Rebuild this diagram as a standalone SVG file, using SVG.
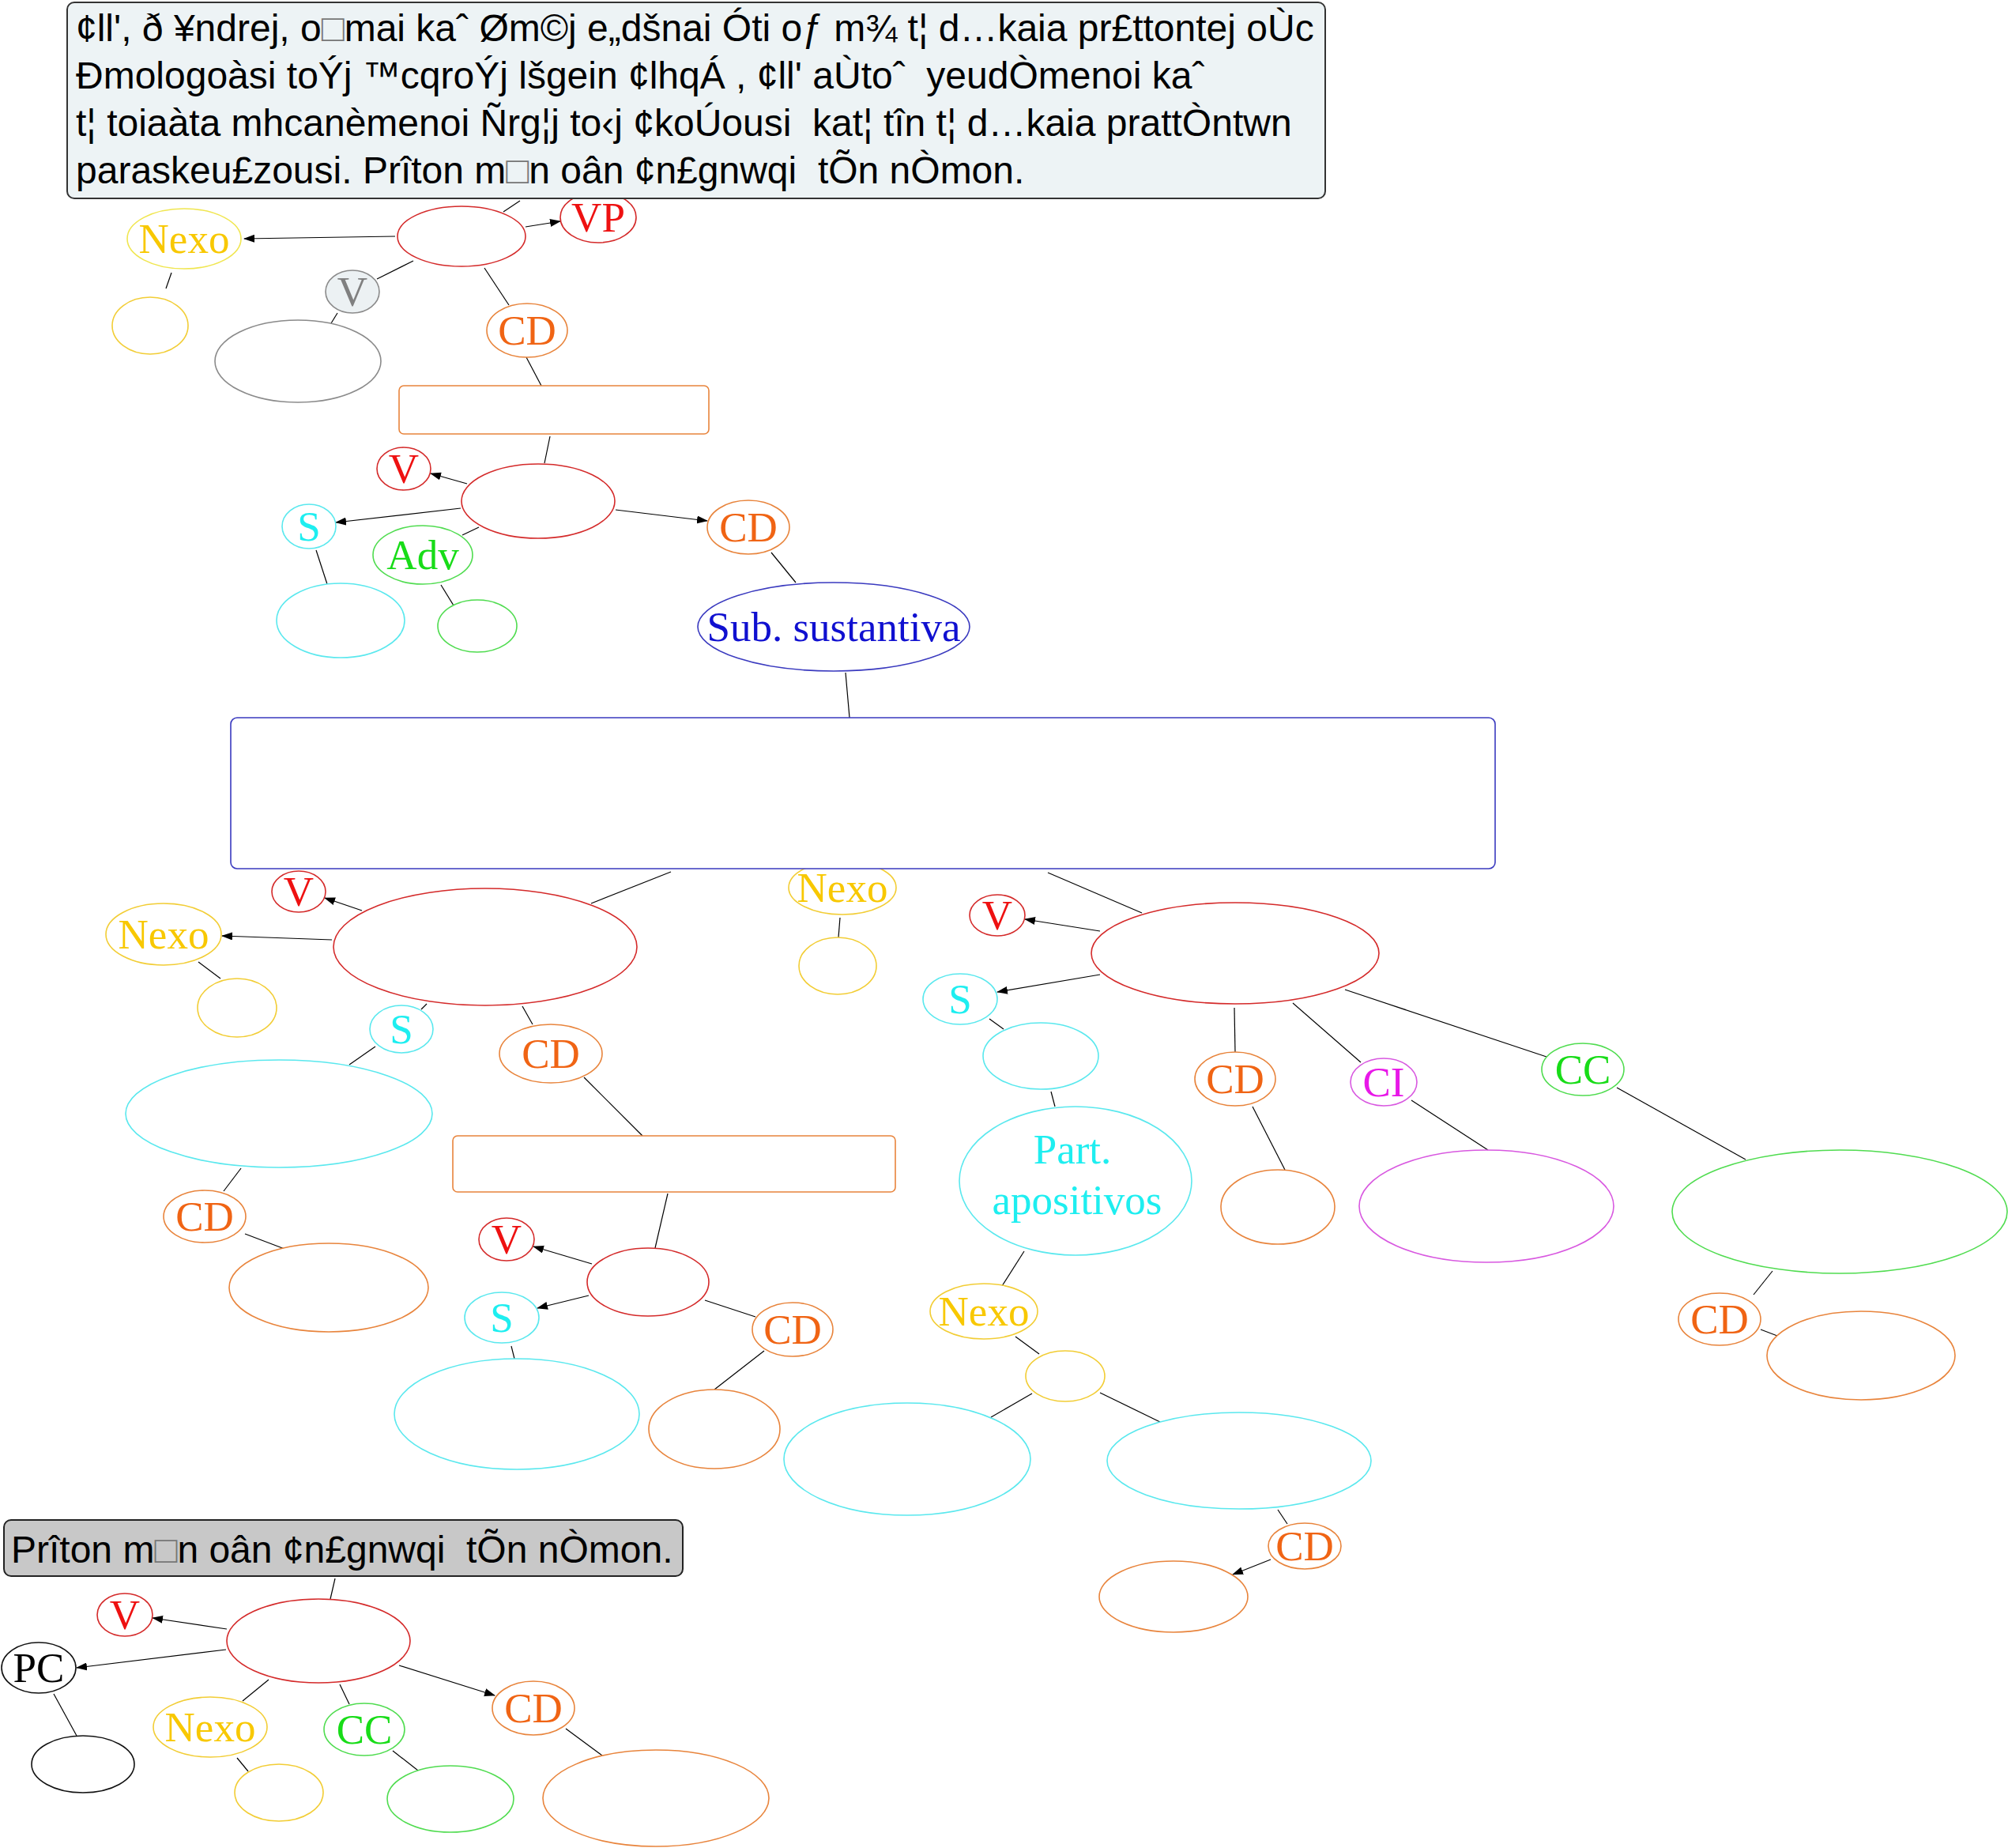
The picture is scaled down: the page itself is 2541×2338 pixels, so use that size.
<svg xmlns="http://www.w3.org/2000/svg" width="2541" height="2338" viewBox="0 0 2541 2338">
<style>
.e{fill:#fff;stroke-width:1.6}
.red{stroke:#d42a2a}.yel{stroke:#f2cd35}.yl2{stroke:#f0e650}.org{stroke:#e8843c}.cya{stroke:#5ae8ee}.grn{stroke:#50dc50}.mag{stroke:#d858e0}.blu{stroke:#3a3abf}.gry{stroke:#8a8a8a}.blk{stroke:#111}
.l{font-family:"Liberation Serif","Times New Roman",serif;font-size:53px;text-anchor:middle}
.tr{fill:#ee1111}.ty{fill:#f8c800}.to{fill:#f06414}.tc{fill:#1eeef0}.tg{fill:#18dc18}.tm{fill:#e818e8}.tb{fill:#1010d0}.tk{fill:#000}.tgy{fill:#808080}
.c line{stroke:#000;stroke-width:1.2}
.a{marker-end:url(#ar)}
.sans{font-family:"Liberation Sans",Arial,sans-serif;font-size:48px;fill:#000;white-space:pre}
</style>
<defs>
<marker id="ar" markerUnits="userSpaceOnUse" markerWidth="14" markerHeight="10" refX="13" refY="5" orient="auto"><path d="M0,0 L14,5 L0,10 z" fill="#000"/></marker>
</defs>
<g class="c">
<line x1="658" y1="254" x2="637" y2="268"/>
<line class="a" x1="500" y1="299" x2="309" y2="302"/>
<line class="a" x1="665" y1="287" x2="709" y2="280"/>
<line x1="523" y1="330" x2="477" y2="353"/>
<line x1="427" y1="396" x2="419" y2="409"/>
<line x1="613" y1="339" x2="644" y2="386"/>
<line x1="666" y1="452" x2="685" y2="488"/>
<line x1="217" y1="345" x2="210" y2="365"/>
<line x1="696" y1="552" x2="689" y2="586"/>
<line class="a" x1="591" y1="612" x2="545" y2="599"/>
<line class="a" x1="583" y1="643" x2="425" y2="661"/>
<line x1="606" y1="667" x2="585" y2="677"/>
<line class="a" x1="779" y1="645" x2="895" y2="659"/>
<line x1="400" y1="696" x2="414" y2="739"/>
<line x1="558" y1="740" x2="574" y2="766"/>
<line x1="976" y1="699" x2="1007" y2="737"/>
<line x1="1070" y1="851" x2="1075" y2="908"/>
<line x1="849" y1="1103" x2="748" y2="1143"/>
<line class="a" x1="458" y1="1152" x2="411" y2="1136"/>
<line class="a" x1="420" y1="1189" x2="281" y2="1184"/>
<line x1="251" y1="1217" x2="279" y2="1238"/>
<line x1="540" y1="1270" x2="533" y2="1277"/>
<line x1="475" y1="1324" x2="442" y2="1347"/>
<line x1="661" y1="1273" x2="674" y2="1296"/>
<line x1="739" y1="1363" x2="813" y2="1437"/>
<line x1="305" y1="1478" x2="283" y2="1507"/>
<line x1="310" y1="1561" x2="360" y2="1580"/>
<line x1="1063" y1="1161" x2="1061" y2="1186"/>
<line x1="845" y1="1510" x2="829" y2="1579"/>
<line class="a" x1="749" y1="1599" x2="675" y2="1577"/>
<line class="a" x1="745" y1="1639" x2="680" y2="1655"/>
<line x1="892" y1="1645" x2="956" y2="1666"/>
<line x1="647" y1="1703" x2="651" y2="1719"/>
<line x1="967" y1="1709" x2="904" y2="1758"/>
<line x1="1326" y1="1104" x2="1445" y2="1155"/>
<line class="a" x1="1392" y1="1178" x2="1297" y2="1163"/>
<line class="a" x1="1392" y1="1233" x2="1262" y2="1255"/>
<line x1="1252" y1="1289" x2="1270" y2="1302"/>
<line x1="1330" y1="1381" x2="1335" y2="1400"/>
<line x1="1562" y1="1275" x2="1563" y2="1331"/>
<line x1="1585" y1="1400" x2="1626" y2="1480"/>
<line x1="1636" y1="1269" x2="1722" y2="1344"/>
<line x1="1786" y1="1392" x2="1883" y2="1455"/>
<line x1="1702" y1="1252" x2="1957" y2="1337"/>
<line x1="2046" y1="1376" x2="2209" y2="1467"/>
<line x1="2243" y1="1608" x2="2219" y2="1638"/>
<line x1="2228" y1="1682" x2="2249" y2="1690"/>
<line x1="1296" y1="1583" x2="1268" y2="1627"/>
<line x1="1285" y1="1691" x2="1315" y2="1713"/>
<line x1="1306" y1="1763" x2="1254" y2="1793"/>
<line x1="1392" y1="1762" x2="1468" y2="1799"/>
<line x1="1617" y1="1910" x2="1629" y2="1928"/>
<line class="a" x1="1608" y1="1973" x2="1560" y2="1992"/>
<line x1="424" y1="1997" x2="418" y2="2023"/>
<line class="a" x1="287" y1="2061" x2="193" y2="2047"/>
<line class="a" x1="286" y1="2087" x2="97" y2="2110"/>
<line x1="68" y1="2143" x2="97" y2="2196"/>
<line x1="340" y1="2125" x2="307" y2="2152"/>
<line x1="300" y1="2224" x2="314" y2="2241"/>
<line x1="430" y1="2131" x2="442" y2="2156"/>
<line x1="497" y1="2215" x2="529" y2="2240"/>
<line class="a" x1="505" y1="2107" x2="626" y2="2145"/>
<line x1="716" y1="2187" x2="762" y2="2221"/>
</g>
<g id="n-vp"><ellipse class="e red" cx="757" cy="275" rx="48" ry="32"/><text class="l tr" x="757" y="293">VP</text></g>
<g id="n-textbox"><rect x="85" y="3" width="1592" height="248" rx="9" fill="#edf3f5" stroke="#333" stroke-width="2"/>
<text class="sans" x="96" y="52">¢ll', ð ¥ndrej, o<tspan fill="#777">□</tspan>mai kaˆ Øm©j e„dšnai Óti oƒ m¾ t¦ d…kaia pr£ttontej oÙc</text>
<text class="sans" x="96" y="112">Ðmologoàsi toÝj ™cqroÝj lšgein ¢lhqÁ , ¢ll' aÙtoˆ  yeudÒmenoi kaˆ</text>
<text class="sans" x="96" y="172">t¦ toiaàta mhcanèmenoi Ñrg¦j to‹j ¢koÚousi  kat¦ tîn t¦ d…kaia prattÒntwn</text>
<text class="sans" x="96" y="232">paraskeu£zousi. Prîton m<tspan fill="#777">□</tspan>n oân ¢n£gnwqi  tÕn nÒmon.</text></g>
<g id="n-nexo1"><ellipse class="e yl2" cx="233" cy="302" rx="72" ry="38"/><text class="l ty" x="233" y="320">Nexo</text></g>
<g id="n-y1"><ellipse class="e yel" cx="190" cy="412" rx="48" ry="36"/></g>
<g id="n-red1"><ellipse class="e red" cx="584" cy="299" rx="81" ry="38"/></g>
<g id="n-vg"><ellipse cx="446" cy="369" rx="34" ry="27" fill="#ecf1f3" stroke="#8a8a8a" stroke-width="1.6"/><text class="l tgy" x="446" y="387">V</text></g>
<g id="n-gry"><ellipse class="e gry" cx="377" cy="457" rx="105" ry="52"/></g>
<g id="n-cd1"><ellipse class="e org" cx="667" cy="418" rx="51" ry="34"/><text class="l to" x="667" y="436">CD</text></g>
<g id="n-r1"><rect class="e org" x="505" y="488" width="392" height="61" rx="6"/></g>
<g id="n-red2"><ellipse class="e red" cx="681" cy="634" rx="97" ry="47"/></g>
<g id="n-v2"><ellipse class="e red" cx="511" cy="593" rx="34" ry="27"/><text class="l tr" x="511" y="611">V</text></g>
<g id="n-s2"><ellipse class="e cya" cx="391" cy="666" rx="34" ry="28"/><text class="l tc" x="391" y="684">S</text></g>
<g id="n-adv"><ellipse class="e grn" cx="535" cy="702" rx="63" ry="37"/><text class="l tg" x="535" y="720">Adv</text></g>
<g id="n-c2"><ellipse class="e cya" cx="431" cy="785" rx="81" ry="47"/></g>
<g id="n-g2"><ellipse class="e grn" cx="604" cy="792" rx="50" ry="33"/></g>
<g id="n-cd2"><ellipse class="e org" cx="947" cy="667" rx="52" ry="34"/><text class="l to" x="947" y="685">CD</text></g>
<g id="n-sub"><ellipse class="e blu" cx="1055" cy="793" rx="172" ry="56"/><text class="l tb" x="1055" y="811">Sub. sustantiva</text></g>
<g id="n-nexo3"><ellipse class="e yel" cx="1066" cy="1123" rx="68" ry="34"/><text class="l ty" x="1066" y="1141">Nexo</text></g>
<g id="n-bigrect"><rect class="e blu" x="292" y="908" width="1600" height="191" rx="8"/></g>
<g id="n-y3"><ellipse class="e yel" cx="1060" cy="1222" rx="49" ry="36"/></g>
<g id="n-red3"><ellipse class="e red" cx="614" cy="1198" rx="192" ry="74"/></g>
<g id="n-v3"><ellipse class="e red" cx="378" cy="1128" rx="34" ry="26"/><text class="l tr" x="378" y="1146">V</text></g>
<g id="n-nexo2"><ellipse class="e yel" cx="207" cy="1182" rx="73" ry="39"/><text class="l ty" x="207" y="1200">Nexo</text></g>
<g id="n-y2"><ellipse class="e yel" cx="300" cy="1275" rx="50" ry="37"/></g>
<g id="n-s3"><ellipse class="e cya" cx="508" cy="1302" rx="40" ry="30"/><text class="l tc" x="508" y="1320">S</text></g>
<g id="n-c3"><ellipse class="e cya" cx="353" cy="1409" rx="194" ry="68"/></g>
<g id="n-cd3"><ellipse class="e org" cx="697" cy="1333" rx="65" ry="37"/><text class="l to" x="697" y="1351">CD</text></g>
<g id="n-r2"><rect class="e org" x="573" y="1437" width="560" height="71" rx="6"/></g>
<g id="n-cd4"><ellipse class="e org" cx="259" cy="1539" rx="52" ry="33"/><text class="l to" x="259" y="1557">CD</text></g>
<g id="n-o4"><ellipse class="e org" cx="416" cy="1629" rx="126" ry="56"/></g>
<g id="n-red4"><ellipse class="e red" cx="820" cy="1622" rx="77" ry="43"/></g>
<g id="n-v4"><ellipse class="e red" cx="641" cy="1568" rx="35" ry="27"/><text class="l tr" x="641" y="1586">V</text></g>
<g id="n-s4"><ellipse class="e cya" cx="635" cy="1667" rx="47" ry="32"/><text class="l tc" x="635" y="1685">S</text></g>
<g id="n-c4"><ellipse class="e cya" cx="654" cy="1789" rx="155" ry="70"/></g>
<g id="n-cd5"><ellipse class="e org" cx="1003" cy="1682" rx="51" ry="34"/><text class="l to" x="1003" y="1700">CD</text></g>
<g id="n-o5"><ellipse class="e org" cx="904" cy="1808" rx="83" ry="50"/></g>
<g id="n-red5"><ellipse class="e red" cx="1563" cy="1206" rx="182" ry="64"/></g>
<g id="n-v5"><ellipse class="e red" cx="1262" cy="1158" rx="35" ry="26"/><text class="l tr" x="1262" y="1176">V</text></g>
<g id="n-s5"><ellipse class="e cya" cx="1215" cy="1264" rx="47" ry="32"/><text class="l tc" x="1215" y="1282">S</text></g>
<g id="n-c5"><ellipse class="e cya" cx="1317" cy="1336" rx="73" ry="42"/></g>
<g id="n-part"><ellipse class="e cya" cx="1361" cy="1494" rx="147" ry="94"/><text class="l tc" x="1357" y="1472">Part.</text><text class="l tc" x="1363" y="1536">apositivos</text></g>
<g id="n-cd6"><ellipse class="e org" cx="1563" cy="1365" rx="51" ry="34"/><text class="l to" x="1563" y="1383">CD</text></g>
<g id="n-o6"><ellipse class="e org" cx="1617" cy="1527" rx="72" ry="47"/></g>
<g id="n-ci"><ellipse class="e mag" cx="1751" cy="1369" rx="42" ry="30"/><text class="l tm" x="1751" y="1387">CI</text></g>
<g id="n-m6"><ellipse class="e mag" cx="1881" cy="1526" rx="161" ry="71"/></g>
<g id="n-cc"><ellipse class="e grn" cx="2003" cy="1353" rx="52" ry="33"/><text class="l tg" x="2003" y="1371">CC</text></g>
<g id="n-g6"><ellipse class="e grn" cx="2328" cy="1533" rx="212" ry="78"/></g>
<g id="n-cd7"><ellipse class="e org" cx="2176" cy="1669" rx="52" ry="33"/><text class="l to" x="2176" y="1687">CD</text></g>
<g id="n-o7"><ellipse class="e org" cx="2355" cy="1715" rx="119" ry="56"/></g>
<g id="n-nexo4"><ellipse class="e yel" cx="1245" cy="1659" rx="68" ry="35"/><text class="l ty" x="1245" y="1677">Nexo</text></g>
<g id="n-y4"><ellipse class="e yel" cx="1348" cy="1741" rx="50" ry="32"/></g>
<g id="n-c7"><ellipse class="e cya" cx="1148" cy="1846" rx="156" ry="71"/></g>
<g id="n-c8"><ellipse class="e cya" cx="1568" cy="1848" rx="167" ry="61"/></g>
<g id="n-cd8"><ellipse class="e org" cx="1651" cy="1956" rx="46" ry="29"/><text class="l to" x="1651" y="1974">CD</text></g>
<g id="n-o8"><ellipse class="e org" cx="1485" cy="2020" rx="94" ry="45"/></g>
<g id="n-box2"><rect x="5" y="1923" width="859" height="71" rx="9" fill="#c8c8c8" stroke="#222" stroke-width="2"/><text class="sans" x="14" y="1977">Prîton m<tspan fill="#777">□</tspan>n oân ¢n£gnwqi  tÕn nÒmon.</text></g>
<g id="n-red6"><ellipse class="e red" cx="403" cy="2076" rx="116" ry="53"/></g>
<g id="n-v6"><ellipse class="e red" cx="158" cy="2043" rx="35" ry="27"/><text class="l tr" x="158" y="2061">V</text></g>
<g id="n-pc"><ellipse class="e blk" cx="49" cy="2110" rx="47" ry="32"/><text class="l tk" x="49" y="2128">PC</text></g>
<g id="n-k6"><ellipse class="e blk" cx="105" cy="2232" rx="65" ry="36"/></g>
<g id="n-nexo6"><ellipse class="e yel" cx="266" cy="2185" rx="72" ry="38"/><text class="l ty" x="266" y="2203">Nexo</text></g>
<g id="n-y6"><ellipse class="e yel" cx="353" cy="2268" rx="56" ry="36"/></g>
<g id="n-cc6"><ellipse class="e grn" cx="461" cy="2188" rx="51" ry="33"/><text class="l tg" x="461" y="2206">CC</text></g>
<g id="n-g7"><ellipse class="e grn" cx="570" cy="2276" rx="80" ry="42"/></g>
<g id="n-cd9"><ellipse class="e org" cx="675" cy="2161" rx="52" ry="34"/><text class="l to" x="675" y="2179">CD</text></g>
<g id="n-o9"><ellipse class="e org" cx="830" cy="2275" rx="143" ry="61"/></g>
</svg>
